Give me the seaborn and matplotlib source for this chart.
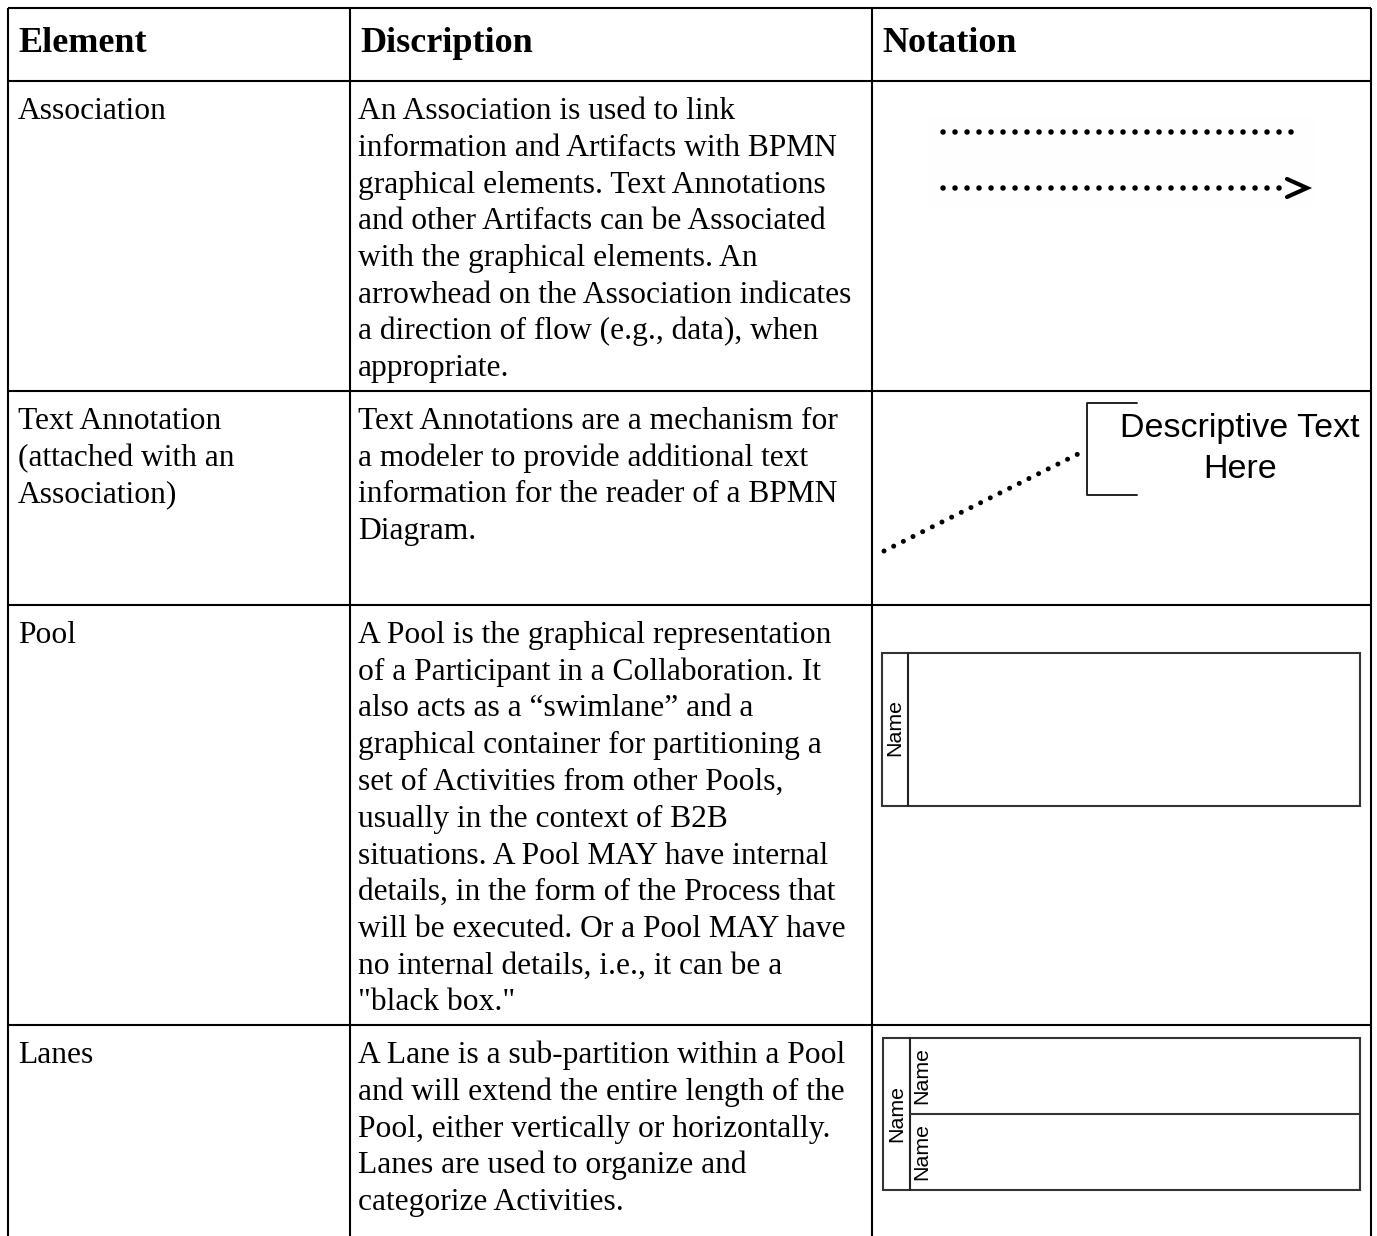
import matplotlib
matplotlib.use("Agg")
import matplotlib.pyplot as plt
import seaborn as sns

# table content
headers = ["Element", "Discription", "Notation"]

elements = [
    ["Association"],
    ["Text Annotation", "(attached with an", "Association)"],
    ["Pool"],
    ["Lanes"],
]

descriptions = [
    ["An Association is used to link",
     "information and Artifacts with BPMN",
     "graphical elements. Text Annotations",
     "and other Artifacts can be Associated",
     "with the graphical elements. An",
     "arrowhead on the Association indicates",
     "a direction of flow (e.g., data), when",
     "appropriate."],
    ["Text Annotations are a mechanism for",
     "a modeler to provide additional text",
     "information for the reader of a BPMN",
     "Diagram."],
    ["A Pool is the graphical representation",
     "of a Participant in a Collaboration. It",
     "also acts as a \u201cswimlane\u201d and a",
     "graphical container for partitioning a",
     "set of Activities from other Pools,",
     "usually in the context of B2B",
     "situations. A Pool MAY have internal",
     "details, in the form of the Process that",
     "will be executed. Or a Pool MAY have",
     "no internal details, i.e., it can be a",
     "\"black box.\""],
    ["A Lane is a sub-partition within a Pool",
     "and will extend the entire length of the",
     "Pool, either vertically or horizontally.",
     "Lanes are used to organize and",
     "categorize Activities."],
]

annotation_text = "Descriptive Text\nHere"
pool_label = "Name"
lane_labels = ["Name", "Name"]

sns.set_theme(style="white")
plt.rcParams['font.family'] = ['Liberation Serif', 'DejaVu Serif']

W, H = 1377, 1236
fig = plt.figure(figsize=(W / 100, H / 100), dpi=100)
ax = fig.add_axes([0, 0, 1, 1])
ax.set_xlim(0, W)
ax.set_ylim(H, 0)
ax.axis('off')

# grid layout (pixels)
col_x = [8, 350, 872, 1371]
row_y = [8, 81, 391, 605, 1025]
lw_tab = 1.5

ax.hlines(row_y, col_x[0], col_x[-1], color='black', lw=lw_tab)
ax.vlines(col_x, row_y[0], H, color='black', lw=lw_tab)

# header
for i, h in enumerate(headers):
    ax.text(col_x[i] + 10, 52, h, fontsize=26, fontweight='bold',
            va='baseline', ha='left', color='black')

line_h = 36.75
for r in range(4):
    base = row_y[r + 1] + 38
    for i, t in enumerate(elements[r]):
        ax.text(col_x[0] + 10, base + i * line_h, t, fontsize=22.7,
                va='baseline', ha='left', color='black')
    for i, t in enumerate(descriptions[r]):
        ax.text(col_x[1] + 8, base + i * line_h, t, fontsize=22.7,
                va='baseline', ha='left', color='black')

sans = ['Liberation Sans', 'DejaVu Sans']
dots = (0, (0.01, 2.15))

# Association notation
ax.add_patch(plt.Rectangle((927, 117), 388, 90, facecolor='#fefefe',
                           edgecolor='none'))
ax.plot([943, 1302], [132, 132], color='black', lw=4, linestyle=dots,
        dash_capstyle='round')
ax.plot([943, 1282], [188, 188], color='black', lw=4, linestyle=dots,
        dash_capstyle='round')
ax.plot([1287, 1307, 1287], [179, 188, 197], color='black', lw=3,
        solid_joinstyle='miter')

# Text annotation notation
ax.plot([884, 1084], [551, 451], color='black', lw=3.6, linestyle=dots,
        dash_capstyle='round')
ax.plot([1137, 1087, 1087, 1137], [403, 403, 495, 495], color='#222222', lw=1.4)
ax.text(1240, 449, annotation_text, family=sans, fontsize=24.5, ha='center',
        va='center', linespacing=1.42, color='black')

# Pool notation
ax.add_patch(plt.Rectangle((882, 653), 478, 153, fill=False,
                           edgecolor='#333333', lw=1.5))
ax.plot([908, 908], [653, 806], color='#222222', lw=1.5)
ax.text(895, 728, pool_label, family=sans, fontsize=15.4, rotation=90,
        ha='center', va='center', color='black')

# Lanes notation
ax.add_patch(plt.Rectangle((883, 1038), 477, 152, fill=False,
                           edgecolor='#333333', lw=1.5))
ax.plot([910, 910], [1038, 1190], color='#222222', lw=1.5)
ax.plot([910, 1360], [1114, 1114], color='#333333', lw=1.5)
ax.text(897, 1113, pool_label, family=sans, fontsize=15.4, rotation=90,
        ha='center', va='center', color='black')
for t, yc in zip(lane_labels, [1076, 1152]):
    ax.text(922, yc, t, family=sans, fontsize=15.4, rotation=90,
            ha='center', va='center', color='black')

fig.savefig('out.png', dpi=100)
